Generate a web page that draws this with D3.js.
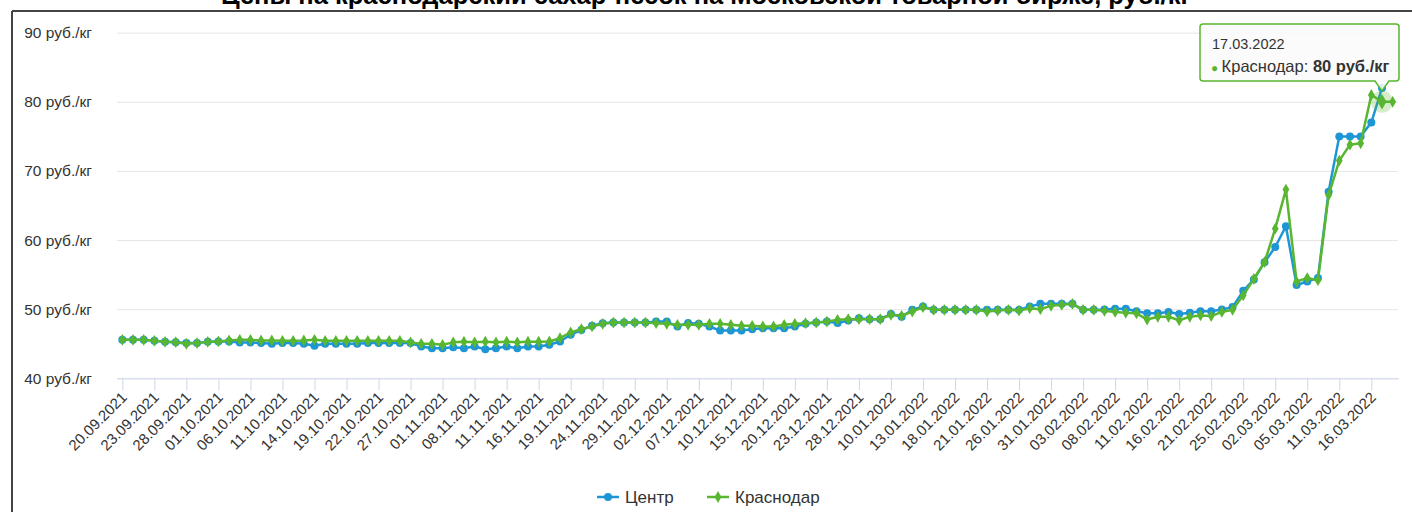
<!DOCTYPE html>
<html><head><meta charset="utf-8">
<script src="https://cdn.jsdelivr.net/npm/d3@7"></script>
<style>
html,body{margin:0;padding:0;background:#fff;}
svg{display:block;font-family:"Liberation Sans",Arial,sans-serif;}
</style></head>
<body>
<svg id="chart" width="1412" height="512"></svg>
<script>
const title = "Цены на краснодарский сахар-песок на Московской товарной бирже, руб./кг";
const categories = [
"20.09.2021","21.09.2021","22.09.2021","23.09.2021","24.09.2021","27.09.2021","28.09.2021","29.09.2021","30.09.2021",
"01.10.2021","04.10.2021","05.10.2021","06.10.2021","07.10.2021","08.10.2021","11.10.2021","12.10.2021","13.10.2021","14.10.2021","15.10.2021","18.10.2021","19.10.2021","20.10.2021","21.10.2021","22.10.2021","25.10.2021","26.10.2021","27.10.2021","28.10.2021","29.10.2021",
"01.11.2021","02.11.2021","03.11.2021","08.11.2021","09.11.2021","10.11.2021","11.11.2021","12.11.2021","15.11.2021","16.11.2021","17.11.2021","18.11.2021","19.11.2021","22.11.2021","23.11.2021","24.11.2021","25.11.2021","26.11.2021","29.11.2021","30.11.2021",
"01.12.2021","02.12.2021","03.12.2021","06.12.2021","07.12.2021","08.12.2021","09.12.2021","10.12.2021","13.12.2021","14.12.2021","15.12.2021","16.12.2021","17.12.2021","20.12.2021","21.12.2021","22.12.2021","23.12.2021","24.12.2021","27.12.2021","28.12.2021","29.12.2021","30.12.2021",
"10.01.2022","11.01.2022","12.01.2022","13.01.2022","14.01.2022","17.01.2022","18.01.2022","19.01.2022","20.01.2022","21.01.2022","24.01.2022","25.01.2022","26.01.2022","27.01.2022","28.01.2022","31.01.2022",
"01.02.2022","02.02.2022","03.02.2022","04.02.2022","07.02.2022","08.02.2022","09.02.2022","10.02.2022","11.02.2022","14.02.2022","15.02.2022","16.02.2022","17.02.2022","18.02.2022","21.02.2022","22.02.2022","24.02.2022","25.02.2022","28.02.2022",
"01.03.2022","02.03.2022","03.03.2022","04.03.2022","05.03.2022","09.03.2022","10.03.2022","11.03.2022","14.03.2022","15.03.2022","16.03.2022","17.03.2022","18.03.2022"
];
const centr = [
45.57,45.57,45.57,45.42,45.28,45.23,45.09,45.09,45.28,
45.33,45.33,45.18,45.18,45.09,44.99,45.09,45.09,44.99,44.7,44.99,44.99,44.99,44.99,45.09,45.09,45.09,45.09,45.09,44.6,44.36,
44.36,44.5,44.36,44.6,44.2,44.36,44.6,44.36,44.6,44.6,44.85,45.33,46.3,47.0,47.6,47.98,48.07,48.07,48.07,48.07,
48.2,48.2,47.5,48.0,47.9,47.5,46.9,46.9,46.9,47.1,47.25,47.25,47.25,47.5,47.9,48.07,48.2,48.0,48.36,48.7,48.55,48.55,
49.3,48.9,49.9,50.4,49.9,49.9,49.9,49.9,49.9,49.9,49.9,49.9,49.9,50.4,50.77,50.77,
50.77,50.77,49.9,49.9,49.95,50.05,50.05,49.7,49.4,49.4,49.6,49.3,49.5,49.7,49.7,49.95,50.3,52.65,54.3,
56.8,59.0,62.0,53.5,54.0,54.5,67.0,75.0,75.0,75.0,77.0,82.0,null
];
const krasnodar = [
45.57,45.57,45.57,45.42,45.28,45.23,45.0,45.09,45.28,
45.33,45.47,45.57,45.57,45.47,45.47,45.42,45.42,45.47,45.57,45.42,45.42,45.42,45.42,45.42,45.42,45.42,45.42,45.18,44.99,44.99,
44.85,45.2,45.3,45.2,45.3,45.2,45.3,45.2,45.3,45.3,45.33,45.8,46.63,47.1,47.5,47.88,48.07,48.07,48.07,48.07,
47.98,47.88,47.74,47.74,47.74,47.88,47.88,47.74,47.6,47.6,47.5,47.5,47.74,47.88,47.98,48.07,48.2,48.46,48.55,48.55,48.55,48.55,
49.18,49.04,49.66,50.29,49.9,49.9,49.9,49.9,49.9,49.66,49.8,49.9,49.8,50.14,50.0,50.48,
50.63,50.77,49.9,49.9,49.76,49.6,49.47,49.4,48.5,48.9,48.9,48.4,48.9,49.1,49.0,49.6,49.9,52.0,54.4,
56.8,61.65,67.3,54.0,54.5,54.2,66.5,71.5,73.8,74.0,81.0,80.0,80.0
];
const yTicks = [40,50,60,70,80,90];
const seriesNames = ["Центр","Краснодар"];
const seriesColors = ["#1e96d5","#58b630"];
const tooltipIndex = 118;

(function(){
const svg = d3.select("#chart");
const pLeft = 117, pRight = 1398, pTop = 32.7, pBottom = 378.3;
const x = d3.scalePoint().domain(categories).range([pLeft, pRight]).padding(0.5);
const y = d3.scaleLinear().domain([40, 90]).range([pBottom, pTop]);

// title + frame
svg.append("text").attr("x", 706).attr("y", 4).attr("text-anchor","middle")
  .attr("font-size", 25.5).attr("font-weight","bold").attr("fill","#000").text(title);
svg.append("line").attr("x1",12).attr("x2",1412).attr("y1",11).attr("y2",11).attr("stroke","#444").attr("stroke-width",2);
svg.append("line").attr("x1",12).attr("x2",12).attr("y1",11).attr("y2",512).attr("stroke","#444").attr("stroke-width",2);

// grid
const yAxis = d3.axisLeft(y).tickValues(yTicks).tickSize(-(pRight-pLeft)).tickFormat(d => d + " руб./кг");
const gy = svg.append("g").attr("transform", `translate(${pLeft},0)`).call(yAxis);
gy.select(".domain").remove();
gy.selectAll(".tick line").attr("stroke","#e6e6e6");
gy.selectAll(".tick text").attr("x",-25).attr("font-size",15.5).attr("fill","#333")
  .attr("font-family","Liberation Sans, Arial, sans-serif");

// x axis
const xTickVals = categories.filter((d,i) => i % 3 === 0);
const xAxis = d3.axisBottom(x).tickValues(xTickVals).tickSize(12).tickSizeOuter(0);
const gx = svg.append("g").attr("transform", `translate(0,${pBottom})`).call(xAxis);
gx.select(".domain").attr("stroke","#ccd6eb").attr("d", `M${pLeft},0.5H${pRight+1}`);
gx.selectAll(".tick line").attr("stroke","#ccd6eb");
gx.selectAll(".tick text").attr("font-size",15).attr("fill","#333")
  .attr("font-family","Liberation Sans, Arial, sans-serif")
  .attr("text-anchor","end").attr("dy",0).attr("y",0)
  .attr("transform","translate(5,20) rotate(-45)");

// series
const allSeries = [centr, krasnodar];
allSeries.forEach((vals, s) => {
  const data = vals.map((v,i) => ({c: categories[i], v}));
  const line = d3.line().defined(d => d.v != null).x(d => x(d.c)).y(d => y(d.v));
  svg.append("path").datum(data).attr("d", line).attr("fill","none")
    .attr("stroke", seriesColors[s]).attr("stroke-width", 2.5).attr("stroke-linejoin","round");
  const pts = data.filter(d => d.v != null);
  if (s === 0) {
    svg.append("g").selectAll("circle").data(pts).join("circle")
      .attr("cx", d => x(d.c)).attr("cy", d => y(d.v)).attr("r", 4).attr("fill", seriesColors[s]);
  } else {
    svg.append("g").selectAll("path").data(pts).join("path")
      .attr("d", d3.symbol(d3.symbolDiamond, 40))
      .attr("transform", d => `translate(${x(d.c)},${y(d.v)})`)
      .attr("fill", seriesColors[s]);
  }
});

// hover halo
const hc = categories[tooltipIndex], hv = krasnodar[tooltipIndex];
svg.append("circle").attr("cx", x(hc)).attr("cy", y(hv)).attr("r", 11)
  .attr("fill", seriesColors[1]).attr("opacity", 0.25);
svg.append("path").attr("d", d3.symbol(d3.symbolDiamond, 70))
  .attr("transform", `translate(${x(hc)},${y(hv)})`).attr("fill", seriesColors[1]);

// tooltip
const tx = 1200, ty = 24, tw = 199, th = 57;
const ax = x(hc);
const tip = svg.append("g");
tip.append("path")
  .attr("d", `M${tx+3},${ty} H${tx+tw-3} Q${tx+tw},${ty} ${tx+tw},${ty+3} V${th+ty-3} Q${tx+tw},${ty+th} ${tx+tw-3},${ty+th} H${ax+7} L${ax},${y(hv)-11} L${ax-7},${ty+th} H${tx+3} Q${tx},${ty+th} ${tx},${ty+th-3} V${ty+3} Q${tx},${ty} ${tx+3},${ty} Z`)
  .attr("fill","rgba(250,250,250,0.88)").attr("stroke", seriesColors[1]).attr("stroke-width",1.5);
tip.append("text").attr("x", tx+12).attr("y", ty+25).attr("font-size",14.5).attr("fill","#333").text(categories[tooltipIndex]);
const t2 = tip.append("text").attr("x", tx+11).attr("y", ty+48).attr("font-size",16.5).attr("fill","#333");
t2.append("tspan").attr("fill", seriesColors[1]).attr("font-size",12).text("● ");
t2.append("tspan").text(seriesNames[1] + ": ");
t2.append("tspan").attr("font-weight","bold").text(hv + " руб./кг");

// legend
const lg = svg.append("g");
const legendX = [597, 707];
seriesNames.forEach((n, s) => {
  const g = lg.append("g").attr("transform", `translate(${legendX[s]},497)`);
  g.append("line").attr("x1",0).attr("x2",22).attr("y1",0).attr("y2",0).attr("stroke",seriesColors[s]).attr("stroke-width",2.5);
  if (s === 0) g.append("circle").attr("cx",11).attr("cy",0).attr("r",4).attr("fill",seriesColors[s]);
  else g.append("path").attr("d", d3.symbol(d3.symbolDiamond, 40)).attr("transform","translate(11,0)").attr("fill",seriesColors[s]);
  g.append("text").attr("x", 28).attr("y", 6).attr("font-size",17).attr("fill","#333").text(n);
});
})();
</script>
</body></html>
